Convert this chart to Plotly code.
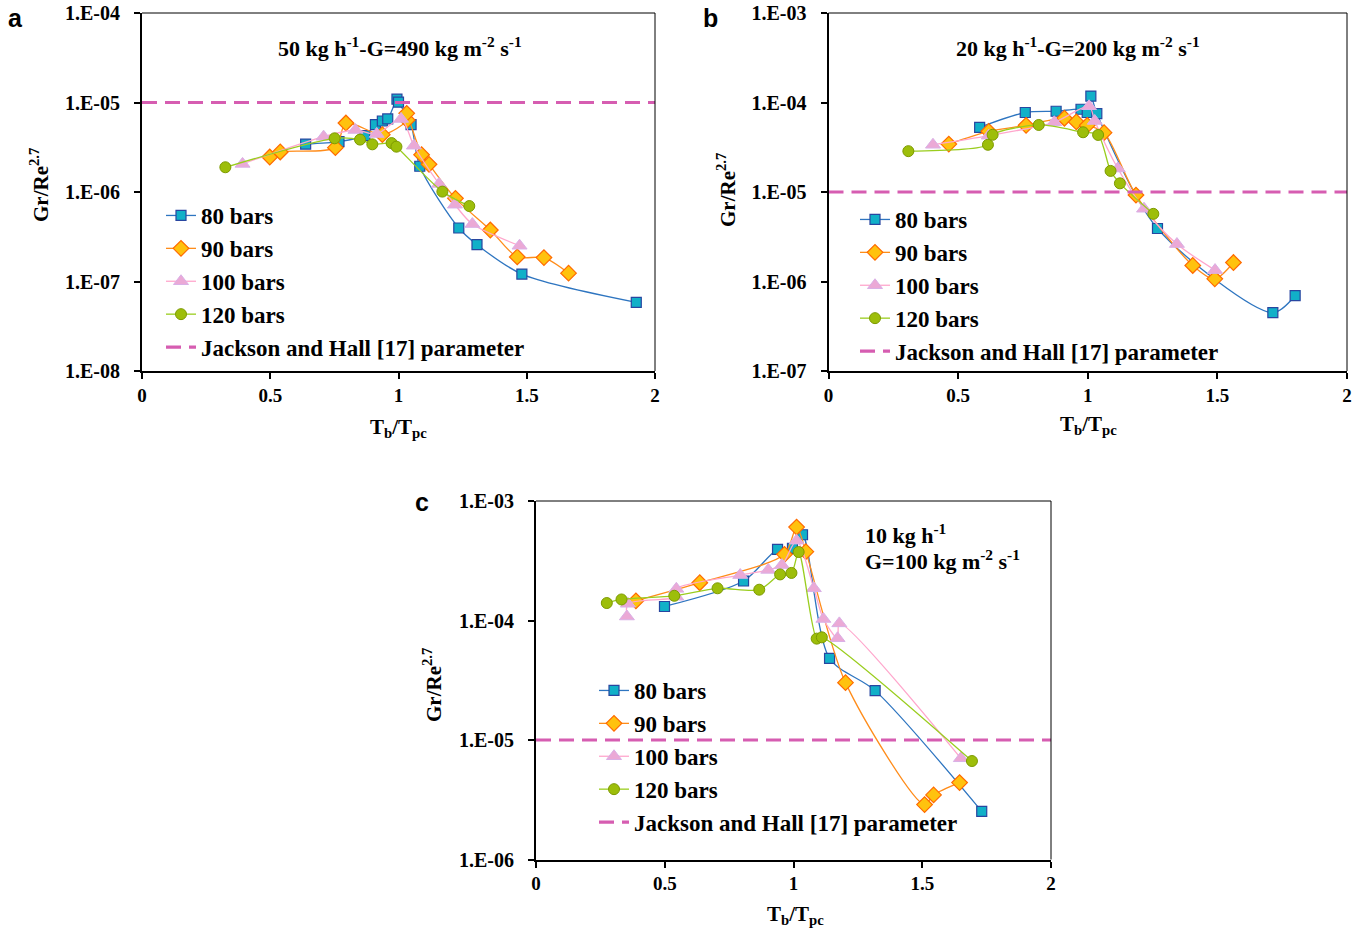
import plotly.graph_objects as go

# ---- Panel a: 50 kg/h, G = 490 kg m^-2 s^-1 ----
a80_x = [0.638, 0.768, 0.869, 0.910, 0.937, 0.958, 0.994, 1.000, 1.049, 1.083, 1.235, 1.306, 1.481, 1.927]
a80_y = [3.43e-6, 3.65e-6, 4.26e-6, 5.65e-6, 6.21e-6, 6.55e-6, 1.09e-5, 1.01e-5, 5.65e-6, 1.94e-6, 3.96e-7, 2.58e-7, 1.21e-7, 5.85e-8]
a90_x = [0.498, 0.539, 0.754, 0.795, 0.937, 1.034, 1.032, 1.090, 1.119, 1.222, 1.358, 1.463, 1.567, 1.663]
a90_y = [2.46e-6, 2.80e-6, 3.13e-6, 5.90e-6, 4.37e-6, 6.37e-6, 7.57e-6, 2.61e-6, 2.04e-6, 8.49e-7, 3.76e-7, 1.88e-7, 1.85e-7, 1.24e-7]
a100_x = [0.392, 0.708, 0.832, 0.915, 1.010, 1.060, 1.158, 1.220, 1.288, 1.472]
a100_y = [2.06e-6, 4.15e-6, 4.93e-6, 4.45e-6, 6.55e-6, 3.29e-6, 1.23e-6, 7.21e-7, 4.38e-7, 2.51e-7]
a120_x = [0.325, 0.751, 0.850, 0.898, 0.973, 0.992, 1.171, 1.276]
a120_y = [1.89e-6, 3.98e-6, 3.85e-6, 3.41e-6, 3.52e-6, 3.21e-6, 1.01e-6, 6.97e-7]

# ---- Panel b: 20 kg/h, G = 200 kg m^-2 s^-1 ----
b80_x = [0.583, 0.759, 0.878, 0.974, 0.998, 1.012, 1.035, 1.269, 1.714, 1.800]
b80_y = [5.28e-5, 7.73e-5, 7.98e-5, 8.41e-5, 7.73e-5, 1.18e-4, 7.52e-5, 3.91e-6, 4.49e-7, 6.97e-7]
b90_x = [0.464, 0.618, 0.762, 0.910, 0.956, 0.998, 1.063, 1.186, 1.405, 1.490, 1.562]
b90_y = [3.43e-5, 4.76e-5, 5.56e-5, 6.67e-5, 6.07e-5, 5.56e-5, 4.60e-5, 9.25e-6, 1.51e-6, 1.07e-6, 1.63e-6]
b100_x = [0.403, 0.618, 0.871, 1.005, 1.027, 1.116, 1.217, 1.344, 1.491]
b100_y = [3.37e-5, 4.26e-5, 6.01e-5, 9.08e-5, 6.22e-5, 1.83e-5, 6.50e-6, 2.62e-6, 1.34e-6]
b120_x = [0.308, 0.615, 0.633, 0.811, 0.982, 1.040, 1.088, 1.124, 1.253]
b120_y = [2.86e-5, 3.37e-5, 4.36e-5, 5.61e-5, 4.65e-5, 4.34e-5, 1.72e-5, 1.25e-5, 5.70e-6]

# ---- Panel c: 10 kg/h, G = 100 kg m^-2 s^-1 ----
c80_x = [0.499, 0.806, 0.938, 0.996, 1.035, 1.140, 1.317, 1.731]
c80_y = [1.31e-4, 2.14e-4, 3.94e-4, 4.02e-4, 5.22e-4, 4.82e-5, 2.59e-5, 2.53e-6]
c90_x = [0.388, 0.636, 0.965, 1.012, 1.048, 1.202, 1.509, 1.544, 1.645]
c90_y = [1.46e-4, 2.07e-4, 3.58e-4, 6.05e-4, 3.77e-4, 3.02e-5, 2.88e-6, 3.47e-6, 4.40e-6]
c100_x = [0.353, 0.357, 0.545, 0.545, 0.793, 0.902, 0.955, 1.012, 1.079, 1.116, 1.171, 1.178, 1.650]
c100_y = [1.08e-4, 1.38e-4, 1.58e-4, 1.84e-4, 2.40e-4, 2.65e-4, 2.91e-4, 4.66e-4, 1.86e-4, 1.03e-4, 7.10e-5, 9.46e-5, 7.03e-6]
c120_x = [0.275, 0.332, 0.537, 0.705, 0.867, 0.948, 0.992, 1.020, 1.090, 1.110, 1.693]
c120_y = [1.40e-4, 1.50e-4, 1.61e-4, 1.86e-4, 1.81e-4, 2.43e-4, 2.50e-4, 3.74e-4, 7.05e-5, 7.23e-5, 6.67e-6]

# Jackson and Hall buoyancy criterion
jh_x = [0, 2]
jh_level = 1e-5

series_names = ["80 bars", "90 bars", "100 bars", "120 bars"]
jh_name = "Jackson and Hall [17] parameter"

x_ticks = [0, 0.5, 1, 1.5, 2]
x_ticktext = ["0", "0.5", "1", "1.5", "2"]

W, H = 1369, 932
SERIF = "Liberation Serif"

styles = [
    dict(line=dict(color="#2E75C0", width=1.3),
         marker=dict(symbol="square", size=10, color="#11B0C8", line=dict(color="#2846A0", width=1.2))),
    dict(line=dict(color="#FF8C1A", width=1.3),
         marker=dict(symbol="diamond", size=12, color="#FFC20E", line=dict(color="#FF6A00", width=1.2))),
    dict(line=dict(color="#FFA6CC", width=1.3),
         marker=dict(symbol="triangle-up", size=13, color="#EBA9D6", line=dict(color="#D9B0E6", width=1))),
    dict(line=dict(color="#9ACD1E", width=1.3),
         marker=dict(symbol="circle", size=11, color="#9DBE0A", line=dict(color="#7D9A00", width=1))),
]
JH_COLOR = "#D65DB1"


def px_x(p):
    return p / W


def px_y(p):
    return 1 - p / H


panels = [
    dict(xs=[a80_x, a90_x, a100_x, a120_x], ys=[a80_y, a90_y, a100_y, a120_y],
         xdom=[142, 655], ydom=[13, 371], yexp=(-8, -4), legend="legend",
         leg_xy=(161, 194)),
    dict(xs=[b80_x, b90_x, b100_x, b120_x], ys=[b80_y, b90_y, b100_y, b120_y],
         xdom=[828.5, 1347], ydom=[13, 371], yexp=(-7, -3), legend="legend2",
         leg_xy=(855, 198)),
    dict(xs=[c80_x, c90_x, c100_x, c120_x], ys=[c80_y, c90_y, c100_y, c120_y],
         xdom=[536, 1051], ydom=[501, 859.5], yexp=(-6, -3), legend="legend3",
         leg_xy=(594, 669)),
]

fig = go.Figure()
layout = {}
shapes = []

for i, p in enumerate(panels):
    xa = "x" if i == 0 else f"x{i + 1}"
    ya = "y" if i == 0 else f"y{i + 1}"
    xkey = "xaxis" if i == 0 else f"xaxis{i + 1}"
    ykey = "yaxis" if i == 0 else f"yaxis{i + 1}"

    for name, xs, ys, st in zip(series_names, p["xs"], p["ys"], styles):
        fig.add_trace(go.Scatter(
            x=xs, y=ys, name=name, mode="lines+markers",
            line=dict(shape="spline", smoothing=0.8, **st["line"]),
            marker=st["marker"], xaxis=xa, yaxis=ya, legend=p["legend"],
        ))
    fig.add_trace(go.Scatter(
        x=jh_x, y=[jh_level] * len(jh_x), name=jh_name, mode="lines",
        line=dict(color=JH_COLOR, width=3.2, dash="15px,8px"),
        xaxis=xa, yaxis=ya, legend=p["legend"],
    ))

    lo, hi = p["yexp"]
    yvals = [10.0 ** e for e in range(lo, hi + 1)]
    ytext = [f"1.E-{abs(e):02d}" for e in range(lo, hi + 1)]

    layout[xkey] = dict(
        domain=[px_x(p["xdom"][0]), px_x(p["xdom"][1])], range=[0, 2],
        anchor=ya, tickvals=x_ticks, ticktext=x_ticktext, automargin=False,
        showgrid=False, zeroline=False, showline=True, linecolor="black", linewidth=2,
        ticks="outside", ticklen=6, tickwidth=1.5, tickcolor="black",
        tickfont=dict(family=SERIF, size=19, color="black", weight="bold"),
        ticklabelstandoff=0,
    )
    layout[ykey] = dict(
        domain=[px_y(p["ydom"][1]), px_y(p["ydom"][0])], type="log", range=[lo, hi],
        anchor=xa, tickvals=yvals, ticktext=ytext, automargin=False,
        showgrid=False, zeroline=False, showline=True, linecolor="black", linewidth=2,
        ticks="outside", ticklen=6, tickwidth=1.5, tickcolor="black",
        tickfont=dict(family=SERIF, size=20, color="black", weight="bold"),
        ticklabelstandoff=10,
    )
    layout[p["legend"]] = dict(
        x=px_x(p["leg_xy"][0]), y=px_y(p["leg_xy"][1]), xanchor="left", yanchor="top",
        bgcolor="rgba(0,0,0,0)", borderwidth=0, tracegroupgap=0,
        font=dict(family=SERIF, size=23, color="black", weight="bold"),
    )
    # thin frame on the top and right sides
    shapes.append(dict(type="line", xref=f"{xa} domain", yref=f"{ya} domain",
                       x0=0, x1=1, y0=1, y1=1, line=dict(color="black", width=1)))
    shapes.append(dict(type="line", xref=f"{xa} domain", yref=f"{ya} domain",
                       x0=1, x1=1, y0=0, y1=1, line=dict(color="black", width=1)))

title_font = dict(family=SERIF, size=22, color="black", weight="bold")
axis_title_font = dict(family=SERIF, size=21, color="black", weight="bold")
letter_font = dict(family="Liberation Sans", size=25, color="black", weight="bold")

annotations = [
    dict(text="50 kg h<sup>-1</sup>-G=490 kg m<sup>-2</sup> s<sup>-1</sup>",
         x=px_x(400), y=px_y(47), xanchor="center", yanchor="middle", font=title_font),
    dict(text="20 kg h<sup>-1</sup>-G=200 kg m<sup>-2</sup> s<sup>-1</sup>",
         x=px_x(1078), y=px_y(47), xanchor="center", yanchor="middle", font=title_font),
    dict(text="10 kg h<sup>-1</sup>",
         x=px_x(863), y=px_y(534), xanchor="left", yanchor="middle", font=title_font),
    dict(text="G=100 kg m<sup>-2</sup> s<sup>-1</sup>",
         x=px_x(863), y=px_y(560), xanchor="left", yanchor="middle", font=title_font),
    dict(text="a", x=px_x(15), y=px_y(18), xanchor="center", yanchor="middle", font=letter_font),
    dict(text="b", x=px_x(710), y=px_y(18), xanchor="center", yanchor="middle", font=letter_font),
    dict(text="c", x=px_x(422), y=px_y(502), xanchor="center", yanchor="middle", font=letter_font),
]
for cx, cy in [(398, 428), (1088, 425), (795, 915)]:
    annotations.append(dict(text="T<sub>b</sub>/T<sub>pc</sub>", x=px_x(cx), y=px_y(cy),
                            xanchor="center", yanchor="middle", font=axis_title_font))
for cx, cy in [(40, 185), (726, 190), (432, 685)]:
    annotations.append(dict(text="Gr/Re<sup>2.7</sup>", x=px_x(cx), y=px_y(cy), textangle=-90,
                            xanchor="center", yanchor="middle", font=axis_title_font))
for a in annotations:
    a.update(xref="paper", yref="paper", showarrow=False)

fig.update_layout(
    width=W, height=H, margin=dict(l=0, r=0, t=0, b=0, autoexpand=False),
    paper_bgcolor="white", plot_bgcolor="white",
    showlegend=True, annotations=annotations, shapes=shapes, **layout,
)

fig.write_html("out.html")
